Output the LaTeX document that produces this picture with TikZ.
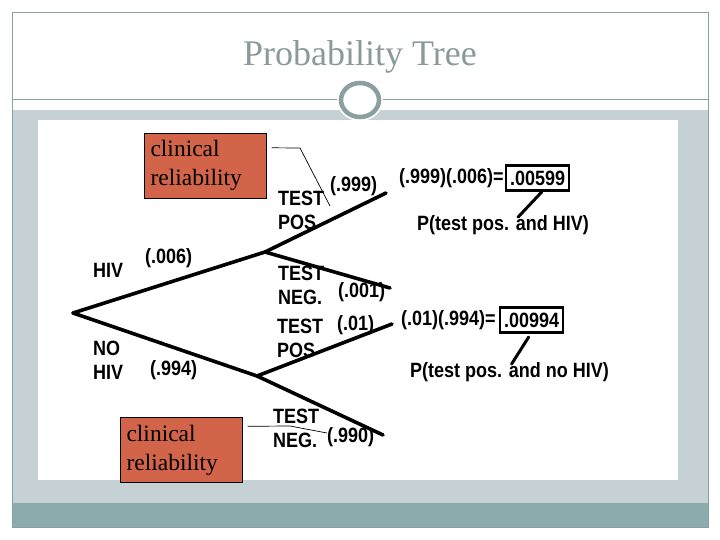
\documentclass[tikz,border=0pt]{standalone}
\usepackage{fontspec}
\setmainfont{Liberation Serif}
\newfontfamily\lblfont{Liberation Sans}
\usetikzlibrary{positioning,calc}
\definecolor{framegray}{HTML}{8A9FA0}
\definecolor{titlegray}{HTML}{8A9A9B}
\definecolor{bandlight}{HTML}{C6D1D6}
\definecolor{banddark}{HTML}{8AACAD}
\definecolor{crfill}{HTML}{D2644A}

\begin{document}
\begin{tikzpicture}[x=1pt,y=-1pt,
  lbl/.style={font=\lblfont\bfseries\fontsize{18}{21}\selectfont, yscale=1.15, inner sep=0pt, anchor=west, align=left},
  branch/.style={line width=3.6pt, line cap=round},
  valbox/.style={draw, line width=2.4pt, font=\lblfont\bfseries\fontsize{18}{20}\selectfont, yscale=1.15, inner xsep=4pt, inner ysep=2pt, minimum height=22pt},
  slash/.style={line width=3pt, line cap=round},
  crbox/.style={draw, fill=crfill, font=\fontsize{23.5}{29}\selectfont, align=left, text width=110pt, inner sep=6pt, minimum height=65pt},
  pointer/.style={line width=0.7pt}]
    \useasboundingbox (0,0) rectangle (720,540);
    % slide background
    \fill[bandlight] (12,110) rectangle (708,503);
    \fill[banddark] (12,503) rectangle (708,527);
    \fill[white] (38,120) rectangle (678,480);
    \draw[framegray, line width=0.8pt] (12,12) rectangle (708,527);
    \draw[framegray, line width=1pt] (12,100) -- (708,100);
    \draw[white, fill=white, line width=8pt] (360,100) ellipse [x radius=19pt, y radius=17pt];
    \draw[framegray, line width=4.5pt] (360,100) ellipse [x radius=19pt, y radius=17pt];
    \node[font=\fontsize{36}{40}\selectfont, text=titlegray] (title) at (360,57) {Probability Tree};
    %
    % tree
    \coordinate (root) at (73,313);
    \coordinate (hiv) at (265,252);
    \coordinate (nohiv) at (257,376);
    \coordinate (hivpos) at (386,193);
    \coordinate (hivneg) at (390,288);
    \coordinate (nohivpos) at (392,324);
    \coordinate (nohivneg) at (383,435);
    \draw[branch] (root) -- (hiv);
    \draw[branch] (root) -- (nohiv);
    \draw[branch] (hiv) -- (hivpos);
    \draw[branch] (hiv) -- (hivneg);
    \draw[branch] (nohiv) -- (nohivpos);
    \draw[branch] (nohiv) -- (nohivneg);
    %
    \node[lbl] (l_hiv) at (93,270) {HIV};
    \node[lbl] (p_hiv) at (145,258) {(.006)};
    \node[lbl] (l_nohiv) at (93,360) {NO\\HIV};
    \node[lbl] (p_nohiv) at (150,370) {(.994)};
    \node[lbl] (l_hivpos) at (278,210) {TEST\\POS};
    \node[lbl] (p_hivpos) at (330,186) {(.999)};
    \node[lbl] (l_hivneg) at (278,285) {TEST\\NEG.};
    \node[lbl] (p_hivneg) at (338,292) {(.001)};
    \node[lbl] (l_nohivpos) at (277,338) {TEST\\POS};
    \node[lbl] (p_nohivpos) at (337,325) {(.01)};
    \node[lbl] (l_nohivneg) at (273,428) {TEST\\NEG.};
    \node[lbl] (p_nohivneg) at (327,437) {(.990)};
    %
    % joint probabilities
    \node[lbl] (eq1) at (399,178) {(.999)(.006)=};
    \node[valbox, right=1pt of eq1] (val1) {.00599};
    \node[lbl] (what1) at (417,225) {P(test pos. and HIV)};
    \draw[slash] ([xshift=4pt]val1.south) -- ([xshift=15pt,yshift=-2pt]what1.north);
    \node[lbl] (eq2) at (401,320) {(.01)(.994)=};
    \node[valbox, right=3pt of eq2] (val2) {.00994};
    \node[lbl] (what2) at (410,372) {P(test pos. and no HIV)};
    \draw[slash] ([xshift=-3pt,yshift=-3pt]val2.south) -- ([xshift=2pt,yshift=-2pt]what2.north);
    %
    % clinical reliability callouts
    \node[crbox] (cr1) at (205.5,165.5) {clinical\\reliability};
    \node[crbox] (cr2) at (181.5,450) {clinical\\reliability};
    \coordinate (cr1bend) at (300,148);
    \coordinate (cr1tip) at (330,206);
    \coordinate (cr2bend) at (290,426);
    \coordinate (cr2tip) at (327,433);
    \draw[pointer] ([shift={(5pt,-15pt)}]cr1.north east) -- (cr1bend) -- (cr1tip);
    \draw[pointer] ([shift={(5pt,-9pt)}]cr2.north east) -- (cr2bend) -- (cr2tip);
  \end{tikzpicture}
\end{document}
